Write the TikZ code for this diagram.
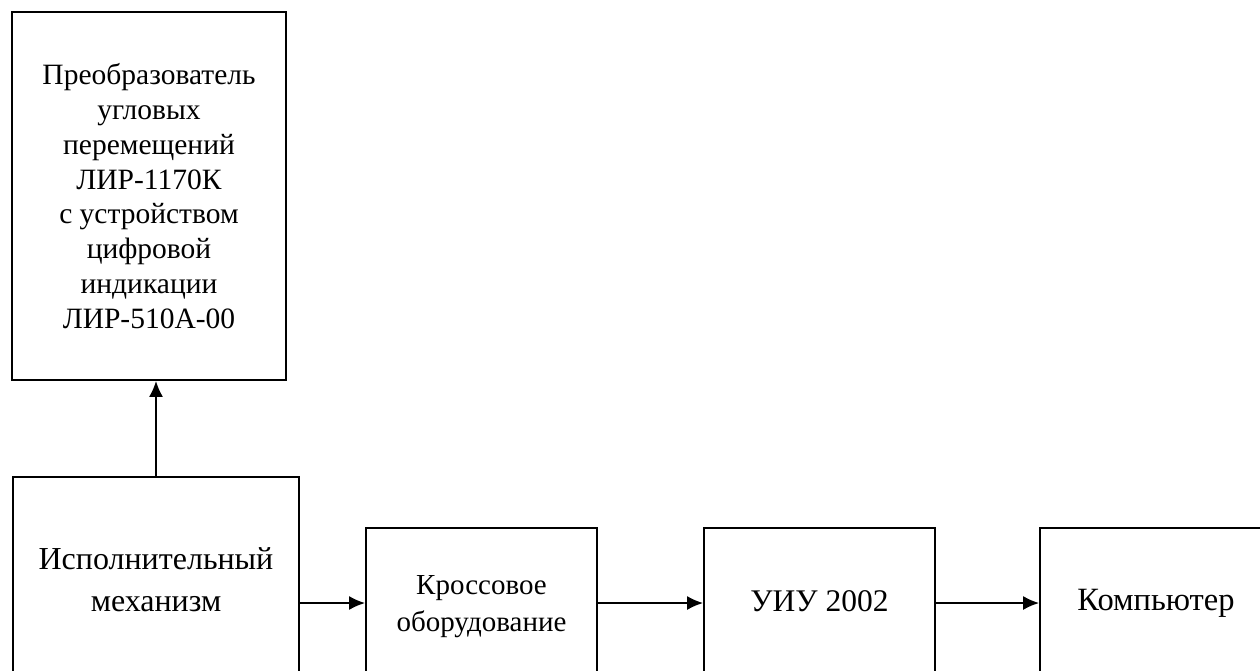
\documentclass[tikz,border=0pt]{standalone}
\usepackage{fontspec}
\setmainfont{Liberation Serif}
\usetikzlibrary{arrows.meta}

\begin{document}
\begin{tikzpicture}[x=1pt,y=-1pt]
\useasboundingbox (0,0) rectangle (1260,671);
\clip (0,0) rectangle (1260,671);
\begin{scope}[every node/.style={rectangle,draw,line width=1.8pt,align=center,inner sep=0pt}]
    \node (conv) at (149,196) [minimum width=274pt,minimum height=368pt,
        font=\fontsize{29.5}{34.8}\selectfont]
        {Преобразователь\\угловых\\перемещений\\ЛИР-1170К\\с устройством\\цифровой\\индикации\\ЛИР-510А-00};
    \node (exec) at (156,580) [minimum width=286pt,minimum height=206pt,
        font=\fontsize{32}{42}\selectfont] {Исполнительный\\механизм};
    \node (cross) at (481.5,607) [minimum width=231pt,minimum height=158pt,
        font=\fontsize{29}{37}\selectfont] {Кроссовое\\оборудование};
    \node (uiu) at (819.5,601) [minimum width=231pt,minimum height=146pt,
        font=\fontsize{31.5}{40}\selectfont] {УИУ 2002};
    \node (comp) at (1156,603) [minimum width=232pt,minimum height=150pt,
        font=\fontsize{32.5}{40}\selectfont] {Компьютер};
\end{scope}
\begin{scope}[>={Latex[length=16pt,width=14pt]},
              every edge/.style={draw,line width=1.8pt}]
    \path [->] (exec.north) edge (exec.north |- conv.south);
    \path [->] (exec.east |- comp.west) edge (cross.west |- comp.west);
    \path [->] (cross.east |- comp.west) edge (uiu.west |- comp.west);
    \path [->] (uiu.east |- comp.west) edge (comp.west);
\end{scope}
\end{tikzpicture}
\end{document}
